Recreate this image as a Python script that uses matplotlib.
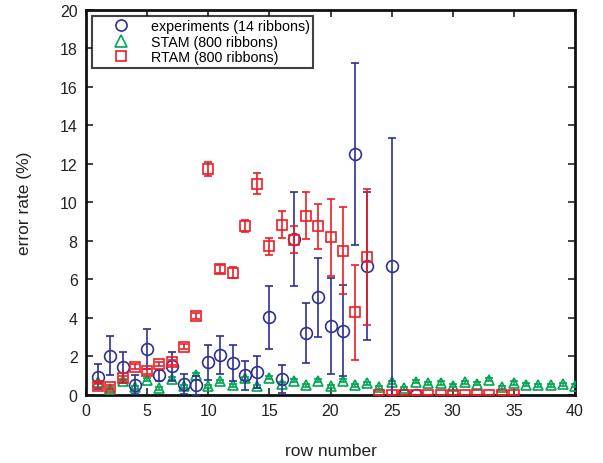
import matplotlib
matplotlib.use("Agg")
import matplotlib.pyplot as plt
from matplotlib.lines import Line2D
import numpy as np

plt.rcParams['font.family'] = ['Liberation Sans', 'DejaVu Sans']

# experiments (blue circles)
exp_x = [1, 2, 3, 4, 5, 6, 7, 8, 9, 10, 11, 12, 13, 14, 15, 16, 17, 18, 19, 20, 21, 22, 23, 25, 26, 27]
exp_y = [0.93, 2.02, 1.42, 0.51, 2.37, 1.0, 1.47, 0.55, 0.49, 1.68, 2.06, 1.64, 1.0, 1.19,
         4.02, 0.81, 8.1, 3.19, 5.06, 3.55, 3.32, 12.52, 6.67, 6.67, 0.0, 0.0]
exp_err = [0.66, 1.01, 0.81, 0.5, 1.04, 0.3, 0.76, 0.52, 0.49, 0.9, 1.0, 0.94, 0.74, 0.83,
           1.65, 0.73, 2.45, 1.56, 2.05, 2.5, 2.37, 4.72, 3.86, 6.67, 0.0, 0.0]

# STAM (green triangles)
stam_x = list(range(1, 41))
stam_y = [0.63, 0.29, 0.72, 0.37, 0.77, 0.32, 0.81, 0.43, 1.02, 0.43,
          0.68, 0.49, 0.84, 0.43, 0.88, 0.55, 0.72, 0.49, 0.72, 0.43,
          0.72, 0.49, 0.58, 0.37, 0.63, 0.32, 0.67, 0.58, 0.60, 0.45,
          0.63, 0.55, 0.77, 0.37, 0.60, 0.51, 0.49, 0.49, 0.53, 0.46]
stam_err = [0.08] * 40

# RTAM (red squares)
rtam_x = list(range(1, 36))
rtam_y = [0.46, 0.37, 0.86, 1.45, 1.21, 1.59, 1.68, 2.49, 4.07, 11.74,
          6.54, 6.33, 8.76, 10.96, 7.72, 8.83, 8.06, 9.31, 8.74, 8.17,
          7.49, 4.28, 7.15, 0, 0, 0, 0, 0, 0, 0, 0, 0, 0, 0, 0]
rtam_err = [0.12, 0.1, 0.12, 0.12, 0.12, 0.12, 0.12, 0.12, 0.15, 0.35,
            0.2, 0.28, 0.3, 0.54, 0.44, 0.69, 0.7, 1.2, 1.17, 2.02,
            2.24, 2.47, 3.56, 0, 0, 0, 0, 0, 0, 0, 0, 0, 0, 0, 0]

labels = ['experiments (14 ribbons)', 'STAM (800 ribbons)', 'RTAM (800 ribbons)']
c_blue = '#2e3192'
c_green = '#00a651'
c_red = '#ed1c24'

fig = plt.figure(figsize=(6.03, 4.64), dpi=100)
ax = fig.add_axes([0.1426, 0.1476, 0.8110, 0.8287])

ax.errorbar(stam_x, stam_y, yerr=stam_err, fmt='^', color=c_green, mfc='none',
            mec=c_green, ms=7.5, mew=1.2, elinewidth=1.1, capsize=3, capthick=1.1, zorder=3)
ax.errorbar(exp_x, exp_y, yerr=exp_err, fmt='o', color=c_blue, mfc='none',
            mec=c_blue, ms=8.5, mew=1.2, elinewidth=1.2, capsize=3, capthick=1.2, zorder=4)
ax.errorbar(rtam_x, rtam_y, yerr=rtam_err, fmt='s', color=c_red, mfc='none',
            mec=c_red, ms=6.8, mew=1.2, elinewidth=1.2, capsize=3, capthick=1.2, zorder=5)

ax.set_xlim(0, 40)
ax.set_ylim(0, 20)
ax.set_xticks(np.arange(0, 41, 5))
ax.set_yticks(np.arange(0, 21, 2))
ax.tick_params(direction='in', length=5, width=1.2, top=True, right=True,
               labelsize=11.5, colors='#222222', pad=6)
for s in ax.spines.values():
    s.set_linewidth(2)
    s.set_color('#111111')

ax.set_xlabel('row number', fontsize=12.5, labelpad=18, color='#222222')
ax.set_ylabel('error rate (%)', fontsize=12.5, labelpad=20, color='#222222')

handles = [
    Line2D([], [], ls='none', marker='o', mfc='none', mec=c_blue, ms=8, mew=1.2),
    Line2D([], [], ls='none', marker='^', mfc='none', mec=c_green, ms=8, mew=1.2),
    Line2D([], [], ls='none', marker='s', mfc='none', mec=c_red, ms=6.5, mew=1.2),
]
leg = ax.legend(handles, labels, loc='upper left', bbox_to_anchor=(0.012, 0.985),
                fontsize=10.3, frameon=True, fancybox=False, borderpad=0.25,
                labelspacing=0.1, handletextpad=0.25, borderaxespad=0.0,
                handlelength=3.6)
leg.get_frame().set_edgecolor('#111111')
leg.get_frame().set_linewidth(1.5)

fig.savefig('out.png', dpi=100)
